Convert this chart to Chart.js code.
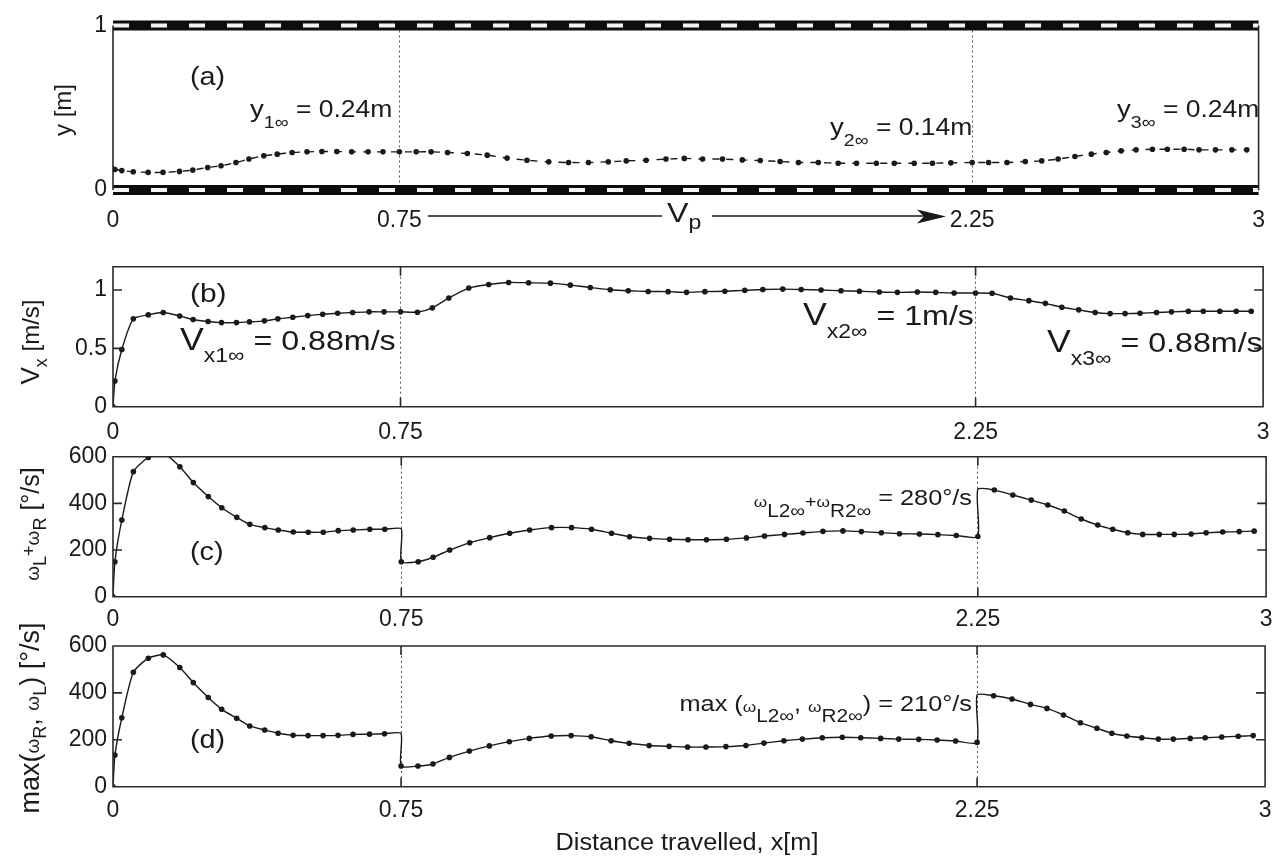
<!DOCTYPE html>
<html>
<head>
<meta charset="utf-8">
<script src="https://cdn.jsdelivr.net/npm/chart.js@4.4.1/dist/chart.umd.min.js"></script>
<style>
  html, body { margin: 0; padding: 0; background: #fff; }
  #wrap { position: relative; width: 1282px; height: 857px; }
  canvas { position: absolute; left: 0; top: 0; }
</style>
</head>
<body>
<div id="wrap">
  <canvas id="pa" width="1282" height="857"></canvas>
  <canvas id="pb" width="1282" height="857"></canvas>
  <canvas id="pc" width="1282" height="857"></canvas>
  <canvas id="pd" width="1282" height="857"></canvas>
</div>
<script>
// tick labels
const xTicks = [0, 0.75, 2.25, 3];
const yTicksA = [0, 1];
const yTicksB = [0, 0.5, 1];
const yTicksCD = [0, 200, 400, 600];

// sample positions along the track (m)
const xS = [0, 0.005, 0.023, 0.053, 0.092, 0.131, 0.174, 0.209, 0.248, 0.283, 0.322, 0.356, 0.395, 0.43, 0.469, 0.508, 0.547, 0.586, 0.625, 0.668, 0.707, 0.75,
  0.794, 0.833, 0.876, 0.928, 0.98, 1.032, 1.084, 1.141, 1.193, 1.245, 1.297, 1.344, 1.396, 1.448, 1.496, 1.544, 1.596, 1.648, 1.695, 1.747, 1.795, 1.847, 1.899, 1.947, 1.999, 2.046, 2.098, 2.146, 2.194, 2.25,
  2.293, 2.341, 2.389, 2.432, 2.475, 2.519, 2.562, 2.601, 2.64, 2.679, 2.722, 2.761, 2.805, 2.844, 2.887, 2.93, 2.969];

// (a) lateral position y [m]
const yA = [0.127, 0.125, 0.118, 0.111, 0.107, 0.107, 0.113, 0.121, 0.137, 0.147, 0.167, 0.188, 0.208, 0.218, 0.228, 0.232, 0.234, 0.234, 0.232, 0.232, 0.232, 0.232,
  0.232, 0.232, 0.228, 0.222, 0.212, 0.194, 0.181, 0.171, 0.167, 0.167, 0.171, 0.177, 0.181, 0.188, 0.192, 0.188, 0.188, 0.183, 0.179, 0.173, 0.167, 0.167, 0.163, 0.163, 0.163, 0.163, 0.163, 0.163, 0.165, 0.167,
  0.167, 0.167, 0.173, 0.177, 0.188, 0.204, 0.218, 0.228, 0.238, 0.244, 0.248, 0.248, 0.248, 0.244, 0.244, 0.244, 0.244];

// (b) forward speed Vx [m/s]
const vB = [0, 0.22, 0.49, 0.753, 0.787, 0.807, 0.778, 0.747, 0.73, 0.721, 0.721, 0.727, 0.736, 0.753, 0.767, 0.781, 0.792, 0.801, 0.807, 0.813, 0.813, 0.813,
  0.81, 0.847, 0.932, 1.017, 1.048, 1.065, 1.062, 1.059, 1.042, 1.022, 1.003, 0.994, 0.988, 0.986, 0.98, 0.986, 0.99, 0.997, 1.005, 1.008, 1.005, 1.0, 0.994, 0.99, 0.983, 0.98, 0.983, 0.98, 0.975, 0.975,
  0.972, 0.932, 0.909, 0.886, 0.852, 0.83, 0.807, 0.798, 0.798, 0.801, 0.807, 0.813, 0.818, 0.818, 0.818, 0.818, 0.818];

// (c) wL + wR [deg/s]
const wC = [0, 150, 329, 536, 597, 615, 557, 489, 429, 381, 340, 310, 296, 286, 277, 276, 276, 283, 286, 289, 289, 150,
  150, 169, 200, 231, 253, 272, 286, 296, 296, 289, 272, 257, 250, 246, 244, 244, 246, 252, 260, 267, 273, 280, 282, 279, 274, 270, 269, 266, 262, 258,
  457, 436, 414, 393, 367, 333, 307, 289, 274, 267, 267, 267, 269, 274, 277, 279, 281];

// (d) max(wR, wL) [deg/s]
const mD = [0, 135, 294, 488, 548, 562, 508, 444, 380, 330, 292, 259, 242, 228, 219, 218, 218, 219, 223, 224, 226, 88,
  88, 97, 125, 152, 174, 192, 206, 216, 218, 213, 196, 185, 176, 172, 169, 169, 171, 176, 186, 196, 203, 209, 211, 209, 206, 203, 202, 199, 195, 189,
  388, 374, 351, 334, 306, 273, 249, 228, 216, 209, 203, 203, 206, 209, 212, 215, 218];

// step changes of the reference at 0.75 m and 2.25 m
const jumpX = [0.75, 2.25];
const jumpSide = [-1, 1];     // extra vertex goes before (-1) or after (1) the sample
const wCTop = [291, 460];
const mDTop = [227, 391];

// corridor walls in (a)
const wallY = [0, 1];
const xRange = [0, 3];

const FONT = '"Liberation Sans", Arial, Helvetica, sans-serif';
const INK = '#1a1a1a';
const FRAME = '#2a2a2a';
const XAXIS_H = 50;

function pts(ys, tops) {
  const out = xS.map((x, i) => ({x: x, y: ys[i]}));
  if (!tops) return out;
  for (let k = jumpX.length - 1; k >= 0; k--) {
    const i = xS.indexOf(jumpX[k]);
    out.splice(jumpSide[k] < 0 ? i : i + 1, 0, {x: jumpX[k], y: tops[k], bare: true});
  }
  return out;
}

function series(data, dashed) {
  return {
    data: data,
    borderColor: INK,
    borderWidth: 1.4,
    borderDash: dashed ? [7, 7] : [],
    tension: 0.2,
    pointRadius: c => (c.raw && (c.raw.bare || c.raw.y > c.chart.scales.y.max)) ? 0 : 2.8,
    pointBackgroundColor: INK,
    pointBorderWidth: 0,
    pointHoverRadius: 0,
    order: 1
  };
}

// text with sub/superscripts: parts = [text, size, dy]
function rich(ctx, n) {
  const sx = n.sx || 1.15;
  ctx.save();
  ctx.translate(n.x, n.y);
  if (n.rot) ctx.rotate(-Math.PI / 2);
  ctx.scale(n.rot ? 1 : sx, 1);
  let w = 0;
  n.parts.forEach(p => { ctx.font = p[1] + 'px ' + FONT; w += ctx.measureText(p[0]).width; });
  let cx = n.align === 'center' ? -w / 2 : n.align === 'right' ? -w : 0;
  ctx.fillStyle = INK;
  ctx.textBaseline = 'alphabetic';
  n.parts.forEach(p => {
    ctx.font = p[1] + 'px ' + FONT;
    ctx.fillText(p[0], cx, p[2] || 0);
    cx += ctx.measureText(p[0]).width;
  });
  ctx.restore();
}

function decor(o) {
  return {
    id: 'decor',
    afterDatasetsDraw(chart) {
      const ctx = chart.ctx, a = chart.chartArea, x = chart.scales.x, y = chart.scales.y;
      ctx.save();
      ctx.strokeStyle = FRAME;
      ctx.lineWidth = 1.6;
      ctx.beginPath();
      if (o.walls) {
        ctx.moveTo(a.left, a.top); ctx.lineTo(a.left, a.bottom);
        ctx.moveTo(a.right, a.top); ctx.lineTo(a.right, a.bottom);
      } else {
        ctx.rect(a.left, a.top, a.right - a.left, a.bottom - a.top);
        o.yticks.forEach(v => {
          const py = y.getPixelForValue(v);
          ctx.moveTo(a.left, py); ctx.lineTo(a.left + 9, py);
          ctx.moveTo(a.right - 9, py); ctx.lineTo(a.right, py);
        });
        [0.75, 2.25].forEach(v => {
          const px = x.getPixelForValue(v);
          ctx.moveTo(px, a.bottom); ctx.lineTo(px, a.bottom - 9);
          ctx.moveTo(px, a.top); ctx.lineTo(px, a.top + 9);
        });
      }
      ctx.stroke();
      ctx.restore();
      o.notes.forEach(n => rich(ctx, n));
      if (o.extra) o.extra(ctx, chart);
    }
  };
}

function panel(id, o) {
  return new Chart(document.getElementById(id), {
    type: 'line',
    data: {datasets: o.datasets},
    options: {
      responsive: false,
      animation: false,
      events: [],
      layout: {padding: {left: 53, right: 15, top: o.top, bottom: 857 - o.bottom - XAXIS_H}},
      plugins: {legend: {display: false}, tooltip: {enabled: false}},
      scales: {
        x: {
          type: 'linear', min: 0, max: 3,
          afterBuildTicks: s => { s.ticks = xTicks.map(v => ({value: v})); },
          afterFit: s => { s.height = XAXIS_H; },
          grid: {
            drawTicks: false, lineWidth: 1,
            color: c => (c.tick && (c.tick.value === 0.75 || c.tick.value === 2.25)) ? '#555' : 'rgba(0,0,0,0)'
          },
          border: {display: false, dash: [2, 3]},
          ticks: {padding: o.xpad, color: INK, font: {family: FONT, size: 23}, maxRotation: 0, autoSkip: false, callback: v => String(v)}
        },
        y: {
          type: 'linear', min: o.ymin, max: o.ymax,
          afterBuildTicks: s => { s.ticks = o.yticks.map(v => ({value: v})); },
          afterFit: s => { s.width = 60; },
          grid: {display: false, drawTicks: false},
          border: {display: false},
          ticks: {padding: 6, color: INK, font: {family: FONT, size: 23}, autoSkip: false, callback: v => String(v)}
        }
      }
    },
    plugins: [decor(o)]
  });
}

// (a) trajectory between the walls
const walls = [];
wallY.forEach(w => {
  const d = xRange.map(x => ({x: x, y: w}));
  walls.push({data: d, borderColor: '#0d0d0d', borderWidth: 10, pointRadius: 0, order: 3, clip: false});
  walls.push({data: d, borderColor: '#f4f4f4', borderWidth: 4, borderDash: [16, 22], pointRadius: 0, order: 2, clip: false});
});

panel('pa', {
  top: 25.5, bottom: 190, ymin: 0, ymax: 1, yticks: yTicksA, xpad: 17, walls: true,
  datasets: [series(pts(yA), true)].concat(walls),
  notes: [
    {x: 190, y: 85, parts: [['(a)', 25]]},
    {x: 250, y: 117, parts: [['y', 24], ['1∞', 17, 11], [' = 0.24m', 23]]},
    {x: 830, y: 135, parts: [['y', 24], ['2∞', 17, 11], [' = 0.14m', 23]]},
    {x: 1117, y: 117, parts: [['y', 24], ['3∞', 17, 11], [' = 0.24m', 23]]},
    {x: 70.5, y: 110, rot: true, align: 'center', parts: [['y [m]', 24]]},
    {x: 667, y: 222, parts: [['V', 28], ['p', 20, 7]]}
  ],
  extra: ctx => {
    ctx.save();
    ctx.strokeStyle = INK;
    ctx.lineWidth = 1.3;
    ctx.beginPath();
    ctx.moveTo(428, 216); ctx.lineTo(662, 216);
    ctx.moveTo(712, 216); ctx.lineTo(925, 216);
    ctx.stroke();
    ctx.fillStyle = INK;
    ctx.beginPath();
    ctx.moveTo(917, 209.5); ctx.lineTo(946, 216.5); ctx.lineTo(917, 223.5); ctx.lineTo(924, 216.5);
    ctx.closePath();
    ctx.fill();
    ctx.restore();
  }
});

panel('pb', {
  top: 266.7, bottom: 406.7, ymin: 0, ymax: 1.2, yticks: yTicksB, xpad: 12.5,
  datasets: [series(pts(vB))],
  notes: [
    {x: 190, y: 302, parts: [['(b)', 26]]},
    {x: 180, y: 350, parts: [['V', 31], ['x1∞', 20, 12], [' = 0.88m/s', 28]]},
    {x: 803, y: 325, parts: [['V', 31], ['x2∞', 20, 13], [' = 1m/s', 28]]},
    {x: 1047, y: 352, parts: [['V', 31], ['x3∞', 20, 13], [' = 0.88m/s', 28]]},
    {x: 39, y: 342, rot: true, align: 'center', parts: [['V', 26], ['x', 18, 8], [' [m/s]', 24]]}
  ]
});

panel('pc', {
  top: 456.7, bottom: 596.7, ymin: 0, ymax: 600, yticks: yTicksCD, xpad: 9.5,
  datasets: [series(pts(wC, wCTop))],
  notes: [
    {x: 190, y: 560, parts: [['(c)', 25]]},
    {x: 972, y: 505, align: 'right', parts: [['ω', 15, 2], ['L2∞', 18, 12], ['+', 17, 2], ['ω', 15, 2], ['R2∞', 18, 12], [' = 280°/s', 22]]},
    {x: 39, y: 524, rot: true, align: 'center', parts: [['ω', 19], ['L', 18, 7], ['+', 18, -4], ['ω', 19], ['R', 18, 7], [' [°/s]', 25]]}
  ]
});

panel('pd', {
  top: 646, bottom: 786.7, ymin: 0, ymax: 600, yticks: yTicksCD, xpad: 10.5,
  datasets: [series(pts(mD, mDTop))],
  notes: [
    {x: 190, y: 748, parts: [['(d)', 25]]},
    {x: 972, y: 711, align: 'right', parts: [['max (', 22], ['ω', 15, 1], ['L2∞', 18, 11], [', ', 22], ['ω', 15, 1], ['R2∞', 18, 11], [') = 210°/s', 22]]},
    {x: 39, y: 718, rot: true, align: 'center', parts: [['max(', 27], ['ω', 19], ['R', 18, 7], [', ', 27], ['ω', 19], ['L', 18, 7], [') [°/s]', 27]]},
    {x: 687, y: 850, align: 'center', sx: 1.1, parts: [['Distance travelled, x[m]', 23]]}
  ]
});
</script>
</body>
</html>
